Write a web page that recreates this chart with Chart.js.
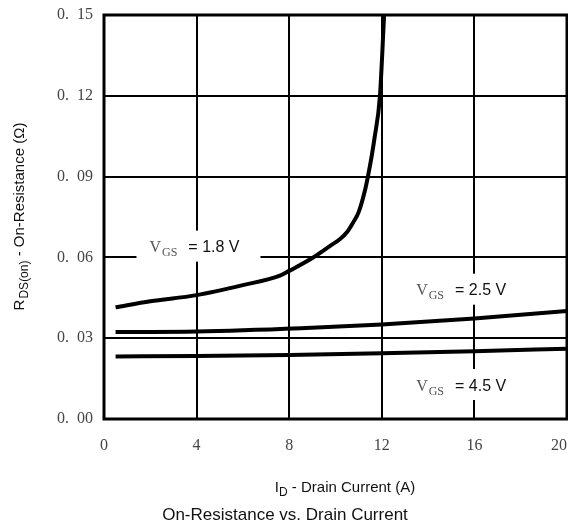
<!DOCTYPE html>
<html>
<head>
<meta charset="utf-8">
<script src="https://cdn.jsdelivr.net/npm/chart.js@4"></script>
<style>
html,body{margin:0;padding:0;background:#fff;}
#wrap{width:568px;height:532px;position:relative;}
</style>
</head>
<body>
<div id="wrap"><canvas id="c" width="568" height="532"></canvas></div>
<script>
// ---- data ----
const id18 = [0.5, 2, 4, 6, 7.6, 8, 9, 9.77, 10.2, 10.49, 10.75, 11.0, 11.29, 11.4, 11.57, 11.68, 11.92, 12.1];
const r18  = [0.0415, 0.0437, 0.046, 0.0497, 0.0532, 0.055, 0.0598, 0.0643, 0.0668, 0.0693, 0.0728, 0.0768, 0.0855, 0.09, 0.098, 0.104, 0.12, 0.15];
const id25 = [0.5, 4, 8.5, 12, 16, 20];
const r25  = [0.0323, 0.0325, 0.0337, 0.0351, 0.0373, 0.0401];
const id45 = [0.5, 4, 8, 12, 16, 20];
const r45  = [0.0232, 0.0234, 0.0238, 0.0244, 0.0252, 0.0261];
const xTicks = [0, 4, 8, 12, 16, 20];
const yTicks = [0.00, 0.03, 0.06, 0.09, 0.12, 0.15];
const seriesLabels = ['1.8 V', '2.5 V', '4.5 V'];
// label anchors in data units (x, y)
const labelAnchors = [[4.08, 0.0642], [15.6, 0.0482], [15.6, 0.0128]];

const toPts = (xs, ys) => xs.map((x, i) => ({x: x, y: ys[i]}));

const serif = '"Liberation Serif", "DejaVu Serif", serif';
const sans = '"Liberation Sans", Arial, sans-serif';

const decor = {
  id: 'decor',
  afterDraw(chart) {
    const ctx = chart.ctx;
    const a = chart.chartArea;
    const xs = chart.scales.x, ys = chart.scales.y;
    ctx.save();
    // frame
    ctx.strokeStyle = '#000';
    ctx.lineWidth = 3;
    ctx.strokeRect(a.left, a.top, a.right - a.left, a.bottom - a.top);
    // series labels with white boxes
    labelAnchors.forEach((p, i) => {
      const cx = xs.getPixelForValue(p[0]);
      const cy = ys.getPixelForValue(p[1]);
      const w = 124, h = 31;
      ctx.fillStyle = '#fff';
      ctx.fillRect(cx - w / 2, cy - h / 2, w, h);
      let x = cx - w / 2 + 13;
      ctx.textBaseline = 'alphabetic';
      ctx.textAlign = 'left';
      ctx.fillStyle = '#555';
      ctx.font = '16px ' + serif;
      ctx.fillText('V', x, cy + 6);
      x += ctx.measureText('V').width + 1;
      ctx.font = '12px ' + serif;
      ctx.fillText('GS', x, cy + 10);
      x += ctx.measureText('GS').width + 11;
      ctx.fillStyle = '#111';
      ctx.font = '16px ' + sans;
      ctx.fillText('= ' + seriesLabels[i], x, cy + 6);
    });
    // y axis title (rotated)
    ctx.save();
    ctx.translate(24, 217);
    ctx.rotate(-Math.PI / 2);
    ctx.fillStyle = '#111';
    const p1 = 'R', p2 = 'DS(on)', p3 = ' - On-Resistance (Ω)';
    ctx.font = '15px ' + sans;
    const w1 = ctx.measureText(p1).width;
    const w3 = ctx.measureText(p3).width;
    ctx.font = '12px ' + sans;
    const w2 = ctx.measureText(p2).width;
    let tx = -(w1 + w2 + w3) / 2;
    ctx.textAlign = 'left';
    ctx.textBaseline = 'alphabetic';
    ctx.font = '15px ' + sans;
    ctx.fillText(p1, tx, 0); tx += w1 + 1;
    ctx.font = '12px ' + sans;
    ctx.fillText(p2, tx, 4); tx += w2;
    ctx.font = '15px ' + sans;
    ctx.fillText(p3, tx, 0);
    ctx.restore();
    // x axis title
    {
      const q1 = 'I', q2 = 'D', q3 = ' - Drain Current (A)';
      ctx.font = '15px ' + sans;
      const a1 = ctx.measureText(q1).width, a3 = ctx.measureText(q3).width;
      ctx.font = '12px ' + sans;
      const a2 = ctx.measureText(q2).width;
      let qx = 345 - (a1 + a2 + a3) / 2;
      ctx.fillStyle = '#111';
      ctx.textAlign = 'left';
      ctx.font = '15px ' + sans;
      ctx.fillText(q1, qx, 492); qx += a1;
      ctx.font = '12px ' + sans;
      ctx.fillText(q2, qx, 496); qx += a2;
      ctx.font = '15px ' + sans;
      ctx.fillText(q3, qx, 492);
    }
    // chart title
    ctx.font = '17px ' + sans;
    ctx.textAlign = 'center';
    ctx.fillStyle = '#111';
    ctx.fillText('On-Resistance vs. Drain Current', 285, 520);
    ctx.restore();
  }
};

const lineStyle = {borderColor: '#000', borderWidth: 4, pointRadius: 0, fill: false, cubicInterpolationMode: 'monotone'};

new Chart(document.getElementById('c'), {
  type: 'line',
  data: {
    datasets: [
      Object.assign({label: 'VGS = ' + seriesLabels[0], data: toPts(id18, r18)}, lineStyle),
      Object.assign({label: 'VGS = ' + seriesLabels[1], data: toPts(id25, r25)}, lineStyle),
      Object.assign({label: 'VGS = ' + seriesLabels[2], data: toPts(id45, r45)}, lineStyle)
    ]
  },
  options: {
    responsive: false,
    animation: false,
    layout: {padding: {top: 15, right: 1, left: 0, bottom: 0}},
    plugins: {legend: {display: false}, tooltip: {enabled: false}, title: {display: false}},
    scales: {
      x: {
        type: 'linear', min: 0, max: 20,
        afterBuildTicks: s => { s.ticks = xTicks.map(v => ({value: v})); },
        afterFit: s => { s.height = 113; s.paddingLeft = 0; s.paddingRight = 0; },
        grid: {color: '#000', lineWidth: 2, drawTicks: false},
        border: {display: false},
        ticks: {padding: 17, color: '#444', font: {family: serif, size: 16}, maxRotation: 0,
          callback: v => v === 20 ? '20\u2002\u2002' : String(v)}
      },
      y: {
        type: 'linear', min: 0, max: 0.15,
        afterBuildTicks: s => { s.ticks = yTicks.map(v => ({value: v})); },
        afterFit: s => { s.width = 104; s.paddingTop = 0; s.paddingBottom = 0; },
        grid: {color: '#000', lineWidth: 2, drawTicks: false},
        border: {display: false},
        ticks: {padding: 11, color: '#444', font: {family: serif, size: 16},
          callback: v => Number(v).toFixed(2).replace('.', '.\u2002')}
      }
    }
  },
  plugins: [decor]
});
</script>
</body>
</html>
